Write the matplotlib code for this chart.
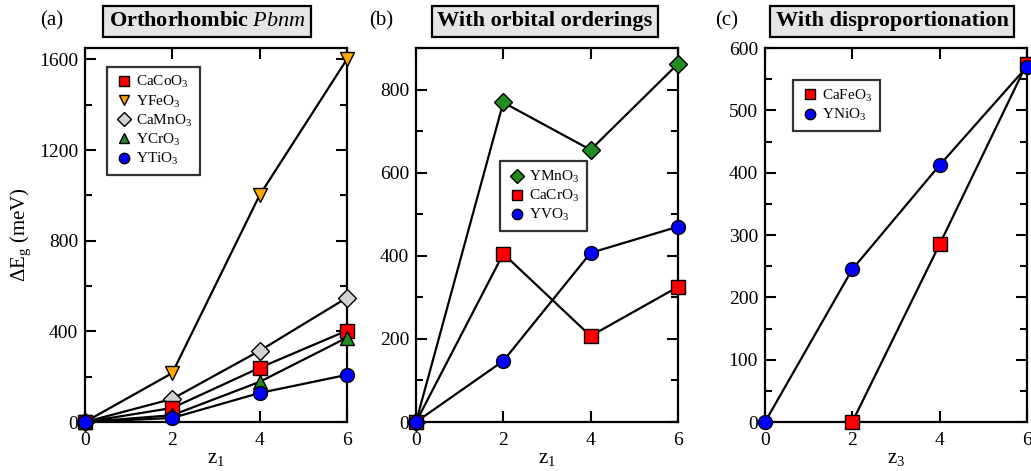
import numpy as np
import matplotlib
matplotlib.use("Agg")
import matplotlib.pyplot as plt
from matplotlib.ticker import MultipleLocator

plt.rcParams['font.family'] = ['Liberation Serif', 'DejaVu Serif']
plt.rcParams['mathtext.fontset'] = 'custom'
plt.rcParams['mathtext.rm'] = 'Liberation Serif'
plt.rcParams['mathtext.it'] = 'Liberation Serif:italic'
plt.rcParams['mathtext.bf'] = 'Liberation Serif:bold'

# panel (a)
z_a = [0, 2, 4, 6]
cacoo3 = [0, 62, 239, 403]
yfeo3 = [0, 216, 1000, 1600]
camno3 = [0, 102, 314, 548]
ycro3 = [0, 30, 177, 372]
ytio3 = [0, 18, 128, 208]

# panel (b)
z_b = [0, 2, 4, 6]
ymno3 = [0, 769, 655, 862]
cacro3 = [0, 405, 207, 325]
yvo3 = [0, 147, 407, 470]

# panel (c)
z_c = [0, 2, 4, 6]
cafeo3 = [None, 0, 285, 575]
ynio3 = [0, 245, 412, 570]

RED = '#ff0000'
ORANGE = '#ffa500'
GRAY = '#d3d3d3'
GREEN = '#228b22'
BLUE = '#0000ff'

fig = plt.figure(figsize=(10.31, 4.71), dpi=100)
W = 0.254
bottom, height = 0.104, 0.794
axa = fig.add_axes([0.0824, bottom, W, height])
axb = fig.add_axes([0.4035, bottom, W, height])
axc = fig.add_axes([0.742, bottom, W, height])


def series(ax, x, y, color, marker, label, ms=10):
    xs = [a for a, b in zip(x, y) if b is not None]
    ys = [b for b in y if b is not None]
    ax.plot(xs, ys, color='black', lw=1.6, zorder=2)
    ax.plot(xs, ys, ls='none', marker=marker, ms=ms, mfc=color, mec='black',
            mew=1.0, label=label, zorder=3, clip_on=False)


def style(ax, ymax, major, minor, xlabel):
    ax.set_xlim(0, 6)
    ax.set_ylim(0, ymax)
    ax.xaxis.set_major_locator(MultipleLocator(2))
    ax.yaxis.set_major_locator(MultipleLocator(major))
    ax.yaxis.set_minor_locator(MultipleLocator(minor))
    ax.tick_params(which='both', direction='in', top=True, right=True,
                   labelsize=14, width=1.5)
    ax.tick_params(which='major', length=8)
    ax.tick_params(which='minor', length=5)
    ax.tick_params(axis='x', pad=7)
    ax.tick_params(axis='y', pad=5)
    for s in ax.spines.values():
        s.set_linewidth(1.6)
    ax.set_xlabel(xlabel, fontsize=15, labelpad=0)


def legend(ax, anchor):
    leg = ax.legend(loc='upper left', bbox_to_anchor=anchor, fontsize=11,
                    frameon=True, fancybox=False, edgecolor='black',
                    handletextpad=0.2, borderpad=0.5, labelspacing=0.2,
                    handlelength=1.2, markerscale=0.75, borderaxespad=0)
    leg.get_frame().set_linewidth(1.6)


series(axa, z_a, yfeo3, ORANGE, 'v', None)
series(axa, z_a, camno3, GRAY, 'D', None, ms=9)
series(axa, z_a, cacoo3, RED, 's', None)
series(axa, z_a, ycro3, GREEN, '^', None)
series(axa, z_a, ytio3, BLUE, 'o', None)
for c, m, lab, ms in [(RED, 's', 'CaCoO$_3$', 10), (ORANGE, 'v', 'YFeO$_3$', 10),
                      (GRAY, 'D', 'CaMnO$_3$', 9), (GREEN, '^', 'YCrO$_3$', 10),
                      (BLUE, 'o', 'YTiO$_3$', 10)]:
    axa.plot([], [], ls='none', marker=m, ms=ms, mfc=c, mec='black', label=lab)
style(axa, 1650, 400, 200, 'z$_1$')
axa.set_ylabel(r'$\Delta$E$_\mathrm{g}$ (meV)', fontsize=15, labelpad=4)
legend(axa, (0.084, 0.95))

series(axb, z_b, ymno3, GREEN, 'D', 'YMnO$_3$', ms=9)
series(axb, z_b, cacro3, RED, 's', 'CaCrO$_3$')
series(axb, z_b, yvo3, BLUE, 'o', 'YVO$_3$')
style(axb, 900, 200, 100, 'z$_1$')
legend(axb, (0.32, 0.697))

series(axc, z_c, cafeo3, RED, 's', 'CaFeO$_3$')
series(axc, z_c, ynio3, BLUE, 'o', 'YNiO$_3$')
style(axc, 600, 100, 50, 'z$_3$')
legend(axc, (0.107, 0.914))

titles = [('Orthorhombic $\\mathbf{\\mathit{Pbnm}}$', 207, '(a)', 52),
          ('With orbital orderings', 545, '(b)', 381),
          ('With disproportionation', 892, '(c)', 727)]
for t, tx, lab, lx in titles:
    fig.text(tx / 1031, 0.955, t, ha='center', va='center',
             fontsize=16, fontweight='bold',
             bbox=dict(boxstyle='square,pad=0.25', fc='#e5e5e5', ec='black', lw=1.6))
    fig.text(lx / 1031, 0.955, lab, ha='center', va='center', fontsize=15)

fig.savefig('out.png', dpi=100)
